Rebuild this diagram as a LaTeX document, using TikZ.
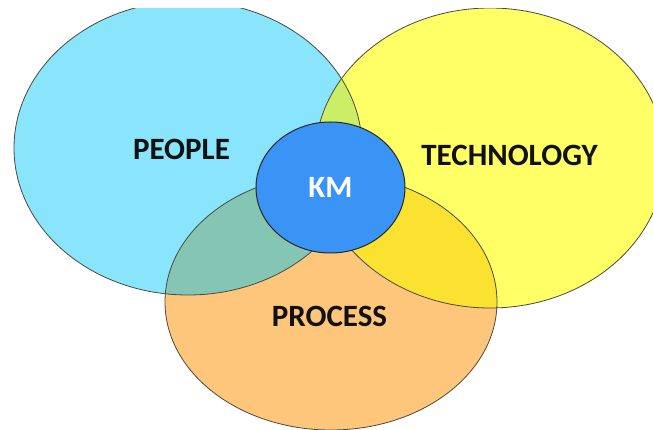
\documentclass[tikz,border=0pt]{standalone}
\usepackage{fontspec}
\setmainfont{Carlito}
\usetikzlibrary{shapes.geometric}
\definecolor{peoplec}{HTML}{88E5FB}
\definecolor{techc}{HTML}{FFFF66}
\definecolor{procc}{HTML}{FDC67B}
\definecolor{ptc}{HTML}{CBEE66}
\definecolor{pprc}{HTML}{84C5B4}
\definecolor{tprc}{HTML}{FCE230}
\definecolor{kmc}{HTML}{3A94F5}
\definecolor{outc}{HTML}{4A4A40}
\definecolor{txtc}{HTML}{111111}
\begin{document}
\begin{tikzpicture}[x=1pt,y=-1pt,
  outl/.style={draw=outc,line width=0.8pt},
  lbl/.style={font=\bfseries\fontsize{31}{31}\selectfont,text=txtc,inner sep=0pt},
  kmbox/.style={ellipse,minimum width=149pt,minimum height=131pt,inner sep=0pt,
    fill=kmc,draw=black!85,line width=1pt,text=white,font=\bfseries\fontsize{31}{31}\selectfont}]
\useasboundingbox (0,0) rectangle (653,430);
\begin{scope}
  \clip (0,9) rectangle (653,430);
  \fill[peoplec] (188,148) ellipse [x radius=174pt, y radius=147pt];
  \fill[techc] (490,158) ellipse [x radius=175pt, y radius=150pt];
  \fill[procc] (331,302) ellipse [x radius=166pt, y radius=128pt];
  \begin{scope}
    \clip (188,148) ellipse [x radius=174pt, y radius=147pt];
    \fill[ptc] (490,158) ellipse [x radius=175pt, y radius=150pt];
    \fill[pprc] (331,302) ellipse [x radius=166pt, y radius=128pt];
  \end{scope}
  \begin{scope}
    \clip (490,158) ellipse [x radius=175pt, y radius=150pt];
    \fill[tprc] (331,302) ellipse [x radius=166pt, y radius=128pt];
  \end{scope}
  \draw[outl] (188,148) ellipse [x radius=174pt, y radius=147pt];
  \draw[outl] (490,158) ellipse [x radius=175pt, y radius=150pt];
  \draw[outl] (331,302) ellipse [x radius=166pt, y radius=128pt];
\end{scope}
\node[kmbox] (km) at (330.5,187.5) {KM};
\node[lbl] (people) at (181.5,149) {PEOPLE};
\node[lbl] (technology) at (509.5,155.5) {TECHNOLOGY};
\node[lbl] (process) at (329.5,316) {PROCESS};
\end{tikzpicture}
\end{document}
